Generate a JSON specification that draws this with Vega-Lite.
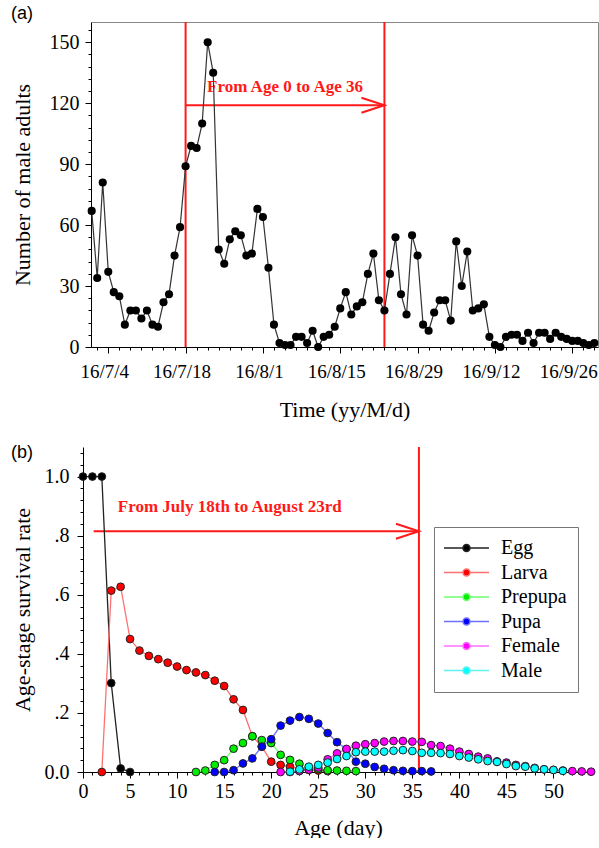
{
  "$schema": "https://vega.github.io/schema/vega-lite/v6.json",
  "padding": {"left": 10, "top": 4, "right": 0, "bottom": 0},
  "background": "#ffffff",
  "config": {
    "view": {"stroke": "#888888", "strokeWidth": 1},
    "font": "Liberation Serif",
    "axis": {
      "grid": false,
      "labelFont": "Liberation Serif",
      "labelFontSize": 20,
      "labelColor": "#000000",
      "titleFont": "Liberation Serif",
      "titleFontSize": 22,
      "titleFontWeight": "normal",
      "titleColor": "#000000",
      "domainColor": "#000000",
      "tickColor": "#000000",
      "labelOverlap": false,
      "labelFlush": false
    },
    "title": {"font": "Liberation Sans", "fontSize": 18, "fontWeight": "normal", "anchor": "start", "frame": "bounds", "color": "#000000"}
  },
  "spacing": 21,
  "resolve": {"legend": {"color": "independent", "fill": "independent"}},
  "vconcat": [
    {
      "width": 507,
      "height": 325,
      "title": {"text": "(a)", "offset": -17, "baseline": "alphabetic"},
      "data": {"values": [
        {"date": "2016-07-01", "count": 67}, {"date": "2016-07-02", "count": 34}, {"date": "2016-07-03", "count": 81}, {"date": "2016-07-04", "count": 37},
        {"date": "2016-07-05", "count": 27}, {"date": "2016-07-06", "count": 25}, {"date": "2016-07-07", "count": 11}, {"date": "2016-07-08", "count": 18},
        {"date": "2016-07-09", "count": 18}, {"date": "2016-07-10", "count": 14}, {"date": "2016-07-11", "count": 18}, {"date": "2016-07-12", "count": 11},
        {"date": "2016-07-13", "count": 10}, {"date": "2016-07-14", "count": 22}, {"date": "2016-07-15", "count": 26}, {"date": "2016-07-16", "count": 45},
        {"date": "2016-07-17", "count": 59}, {"date": "2016-07-18", "count": 89}, {"date": "2016-07-19", "count": 99}, {"date": "2016-07-20", "count": 98},
        {"date": "2016-07-21", "count": 110}, {"date": "2016-07-22", "count": 150}, {"date": "2016-07-23", "count": 135}, {"date": "2016-07-24", "count": 48},
        {"date": "2016-07-25", "count": 41}, {"date": "2016-07-26", "count": 53}, {"date": "2016-07-27", "count": 57}, {"date": "2016-07-28", "count": 55},
        {"date": "2016-07-29", "count": 45}, {"date": "2016-07-30", "count": 46}, {"date": "2016-07-31", "count": 68},
        {"date": "2016-08-01", "count": 64}, {"date": "2016-08-02", "count": 39}, {"date": "2016-08-03", "count": 11}, {"date": "2016-08-04", "count": 2},
        {"date": "2016-08-05", "count": 1}, {"date": "2016-08-06", "count": 1}, {"date": "2016-08-07", "count": 5}, {"date": "2016-08-08", "count": 5},
        {"date": "2016-08-09", "count": 2}, {"date": "2016-08-10", "count": 8}, {"date": "2016-08-11", "count": 0}, {"date": "2016-08-12", "count": 5},
        {"date": "2016-08-13", "count": 6}, {"date": "2016-08-14", "count": 10}, {"date": "2016-08-15", "count": 19}, {"date": "2016-08-16", "count": 27},
        {"date": "2016-08-17", "count": 16}, {"date": "2016-08-18", "count": 20}, {"date": "2016-08-19", "count": 22}, {"date": "2016-08-20", "count": 36},
        {"date": "2016-08-21", "count": 46}, {"date": "2016-08-22", "count": 23}, {"date": "2016-08-23", "count": 18}, {"date": "2016-08-24", "count": 36},
        {"date": "2016-08-25", "count": 54}, {"date": "2016-08-26", "count": 26}, {"date": "2016-08-27", "count": 16}, {"date": "2016-08-28", "count": 55},
        {"date": "2016-08-29", "count": 45}, {"date": "2016-08-30", "count": 11}, {"date": "2016-08-31", "count": 8},
        {"date": "2016-09-01", "count": 17}, {"date": "2016-09-02", "count": 23}, {"date": "2016-09-03", "count": 23}, {"date": "2016-09-04", "count": 13},
        {"date": "2016-09-05", "count": 52}, {"date": "2016-09-06", "count": 30}, {"date": "2016-09-07", "count": 47}, {"date": "2016-09-08", "count": 18},
        {"date": "2016-09-09", "count": 19}, {"date": "2016-09-10", "count": 21}, {"date": "2016-09-11", "count": 5}, {"date": "2016-09-12", "count": 1},
        {"date": "2016-09-13", "count": 0}, {"date": "2016-09-14", "count": 5}, {"date": "2016-09-15", "count": 6}, {"date": "2016-09-16", "count": 6},
        {"date": "2016-09-17", "count": 3}, {"date": "2016-09-18", "count": 7}, {"date": "2016-09-19", "count": 2}, {"date": "2016-09-20", "count": 7},
        {"date": "2016-09-21", "count": 7}, {"date": "2016-09-22", "count": 4}, {"date": "2016-09-23", "count": 7}, {"date": "2016-09-24", "count": 5},
        {"date": "2016-09-25", "count": 4}, {"date": "2016-09-26", "count": 3}, {"date": "2016-09-27", "count": 3}, {"date": "2016-09-28", "count": 2},
        {"date": "2016-09-29", "count": 1}, {"date": "2016-09-30", "count": 2}
      ]},
      "encoding": {
        "x": {
          "field": "date", "type": "temporal",
          "scale": {"type": "utc", "domain": [{"year": 2016, "month": 6, "date": 30, "hours": 21, "utc": true}, {"year": 2016, "month": 9, "date": 30, "hours": 16, "utc": true}]},
          "axis": {
            "title": "Time (yy/M/d)",
            "titlePadding": 18,
            "labelPadding": 9,
            "labelFontSize": 19,
            "labelOffset": -4,
            "values": [
              {"year": 2016, "month": 7, "date": 2, "utc": true}, {"year": 2016, "month": 7, "date": 4, "utc": true}, {"year": 2016, "month": 7, "date": 6, "utc": true},
              {"year": 2016, "month": 7, "date": 8, "utc": true}, {"year": 2016, "month": 7, "date": 10, "utc": true}, {"year": 2016, "month": 7, "date": 12, "utc": true},
              {"year": 2016, "month": 7, "date": 14, "utc": true}, {"year": 2016, "month": 7, "date": 16, "utc": true}, {"year": 2016, "month": 7, "date": 18, "utc": true},
              {"year": 2016, "month": 7, "date": 20, "utc": true}, {"year": 2016, "month": 7, "date": 22, "utc": true}, {"year": 2016, "month": 7, "date": 24, "utc": true},
              {"year": 2016, "month": 7, "date": 26, "utc": true}, {"year": 2016, "month": 7, "date": 28, "utc": true}, {"year": 2016, "month": 7, "date": 30, "utc": true},
              {"year": 2016, "month": 8, "date": 1, "utc": true}, {"year": 2016, "month": 8, "date": 3, "utc": true}, {"year": 2016, "month": 8, "date": 5, "utc": true},
              {"year": 2016, "month": 8, "date": 7, "utc": true}, {"year": 2016, "month": 8, "date": 9, "utc": true}, {"year": 2016, "month": 8, "date": 11, "utc": true},
              {"year": 2016, "month": 8, "date": 13, "utc": true}, {"year": 2016, "month": 8, "date": 15, "utc": true}, {"year": 2016, "month": 8, "date": 17, "utc": true},
              {"year": 2016, "month": 8, "date": 19, "utc": true}, {"year": 2016, "month": 8, "date": 21, "utc": true}, {"year": 2016, "month": 8, "date": 23, "utc": true},
              {"year": 2016, "month": 8, "date": 25, "utc": true}, {"year": 2016, "month": 8, "date": 27, "utc": true}, {"year": 2016, "month": 8, "date": 29, "utc": true},
              {"year": 2016, "month": 8, "date": 31, "utc": true}, {"year": 2016, "month": 9, "date": 2, "utc": true}, {"year": 2016, "month": 9, "date": 4, "utc": true},
              {"year": 2016, "month": 9, "date": 6, "utc": true}, {"year": 2016, "month": 9, "date": 8, "utc": true}, {"year": 2016, "month": 9, "date": 10, "utc": true},
              {"year": 2016, "month": 9, "date": 12, "utc": true}, {"year": 2016, "month": 9, "date": 14, "utc": true}, {"year": 2016, "month": 9, "date": 16, "utc": true},
              {"year": 2016, "month": 9, "date": 18, "utc": true}, {"year": 2016, "month": 9, "date": 20, "utc": true}, {"year": 2016, "month": 9, "date": 22, "utc": true},
              {"year": 2016, "month": 9, "date": 24, "utc": true}, {"year": 2016, "month": 9, "date": 26, "utc": true}, {"year": 2016, "month": 9, "date": 28, "utc": true},
              {"year": 2016, "month": 9, "date": 30, "utc": true}
            ],
            "labelExpr": "((+datum.value) - 1467590400000) % 1209600000 === 0 ? utcFormat(datum.value, '%y/%-m/%-d') : ''",
            "tickSize": {"condition": {"test": "((+datum.value) - 1467590400000) % 1209600000 === 0", "value": 6}, "value": 3}
          }
        },
        "y": {
          "field": "count", "type": "quantitative",
          "scale": {"domain": [0, 160], "nice": false},
          "axis": {
            "title": "Number of male adults",
            "titlePadding": 15,
            "labelPadding": 6,
            "values": [0, 6, 12, 18, 24, 30, 36, 42, 48, 54, 60, 66, 72, 78, 84, 90, 96, 102, 108, 114, 120, 126, 132, 138, 144, 150, 156],
            "labelExpr": "datum.value % 30 === 0 ? datum.label : ''",
            "tickSize": {"condition": {"test": "datum.value % 30 === 0", "value": 6}, "value": 3}
          }
        }
      },
      "layer": [
        {
          "data": {"values": [{"date": "2016-07-18"}, {"date": "2016-08-23"}]},
          "mark": {"type": "rule", "color": "#ff1a1a", "strokeWidth": 2},
          "encoding": {"y": null}
        },
        {
          "data": {"values": [{"date": "2016-07-18", "date2": "2016-08-23", "count": 119}]},
          "mark": {"type": "rule", "color": "#ff1a1a", "strokeWidth": 2},
          "encoding": {"x2": {"field": "date2"}}
        },
        {
          "data": {"values": [{"date": "2016-08-23", "count": 119}]},
          "mark": {"type": "point", "shape": "M-1,-0.326L0,0L-1,0.326", "size": 2116, "filled": false, "color": "#ff1a1a", "strokeWidth": 2, "opacity": 1}
        },
        {
          "data": {"values": [{"date": "2016-08-05", "count": 128, "label": "From Age 0 to Age 36"}]},
          "mark": {"type": "text", "font": "Liberation Serif", "fontSize": 17, "fontWeight": "bold", "color": "#ff1a1a", "baseline": "middle", "align": "center"},
          "encoding": {"text": {"field": "label"}}
        },
        {"mark": {"type": "line", "color": "#333333", "strokeWidth": 1.2}},
        {"mark": {"type": "point", "filled": true, "color": "#000000", "size": 66, "opacity": 1}}
      ]
    },
    {
      "width": 502,
      "height": 325,
      "view": {"stroke": null},
      "title": {"text": "(b)", "offset": -33, "baseline": "alphabetic"},
      "data": {"values": [
        {"stage": "Egg", "age": 0, "rate": 1}, {"stage": "Egg", "age": 1, "rate": 1}, {"stage": "Egg", "age": 2, "rate": 1},
        {"stage": "Egg", "age": 3, "rate": 0.301}, {"stage": "Egg", "age": 4, "rate": 0.012}, {"stage": "Egg", "age": 5, "rate": 0},
        {"stage": "Larva", "age": 2, "rate": 0}, {"stage": "Larva", "age": 3, "rate": 0.614}, {"stage": "Larva", "age": 4, "rate": 0.627},
        {"stage": "Larva", "age": 5, "rate": 0.45}, {"stage": "Larva", "age": 6, "rate": 0.411}, {"stage": "Larva", "age": 7, "rate": 0.393},
        {"stage": "Larva", "age": 8, "rate": 0.382}, {"stage": "Larva", "age": 9, "rate": 0.37}, {"stage": "Larva", "age": 10, "rate": 0.357},
        {"stage": "Larva", "age": 11, "rate": 0.345}, {"stage": "Larva", "age": 12, "rate": 0.337}, {"stage": "Larva", "age": 13, "rate": 0.328},
        {"stage": "Larva", "age": 14, "rate": 0.309}, {"stage": "Larva", "age": 15, "rate": 0.291}, {"stage": "Larva", "age": 16, "rate": 0.246},
        {"stage": "Larva", "age": 17, "rate": 0.21}, {"stage": "Larva", "age": 18, "rate": 0.121}, {"stage": "Larva", "age": 19, "rate": 0.086},
        {"stage": "Larva", "age": 20, "rate": 0.035}, {"stage": "Larva", "age": 21, "rate": 0.024}, {"stage": "Larva", "age": 22, "rate": 0.018},
        {"stage": "Larva", "age": 23, "rate": 0.01}, {"stage": "Larva", "age": 24, "rate": 0.007}, {"stage": "Larva", "age": 25, "rate": 0.005},
        {"stage": "Larva", "age": 26, "rate": 0.003},
        {"stage": "Prepupa", "age": 12, "rate": 0}, {"stage": "Prepupa", "age": 13, "rate": 0.005}, {"stage": "Prepupa", "age": 14, "rate": 0.024},
        {"stage": "Prepupa", "age": 15, "rate": 0.04}, {"stage": "Prepupa", "age": 16, "rate": 0.079}, {"stage": "Prepupa", "age": 17, "rate": 0.098},
        {"stage": "Prepupa", "age": 18, "rate": 0.121}, {"stage": "Prepupa", "age": 19, "rate": 0.108}, {"stage": "Prepupa", "age": 20, "rate": 0.098},
        {"stage": "Prepupa", "age": 21, "rate": 0.058}, {"stage": "Prepupa", "age": 22, "rate": 0.041}, {"stage": "Prepupa", "age": 23, "rate": 0.028},
        {"stage": "Prepupa", "age": 24, "rate": 0.015}, {"stage": "Prepupa", "age": 25, "rate": 0.01}, {"stage": "Prepupa", "age": 26, "rate": 0.006},
        {"stage": "Prepupa", "age": 27, "rate": 0.005}, {"stage": "Prepupa", "age": 28, "rate": 0.004}, {"stage": "Prepupa", "age": 29, "rate": 0.003},
        {"stage": "Pupa", "age": 14, "rate": 0}, {"stage": "Pupa", "age": 15, "rate": 0}, {"stage": "Pupa", "age": 16, "rate": 0.006},
        {"stage": "Pupa", "age": 17, "rate": 0.029}, {"stage": "Pupa", "age": 18, "rate": 0.046}, {"stage": "Pupa", "age": 19, "rate": 0.086},
        {"stage": "Pupa", "age": 20, "rate": 0.111}, {"stage": "Pupa", "age": 21, "rate": 0.157}, {"stage": "Pupa", "age": 22, "rate": 0.174},
        {"stage": "Pupa", "age": 23, "rate": 0.186}, {"stage": "Pupa", "age": 24, "rate": 0.18}, {"stage": "Pupa", "age": 25, "rate": 0.164},
        {"stage": "Pupa", "age": 26, "rate": 0.132}, {"stage": "Pupa", "age": 27, "rate": 0.101}, {"stage": "Pupa", "age": 28, "rate": 0.077},
        {"stage": "Pupa", "age": 29, "rate": 0.035}, {"stage": "Pupa", "age": 30, "rate": 0.028}, {"stage": "Pupa", "age": 31, "rate": 0.017},
        {"stage": "Pupa", "age": 32, "rate": 0.011}, {"stage": "Pupa", "age": 33, "rate": 0.006}, {"stage": "Pupa", "age": 34, "rate": 0.004},
        {"stage": "Pupa", "age": 35, "rate": 0.003}, {"stage": "Pupa", "age": 36, "rate": 0.003}, {"stage": "Pupa", "age": 37, "rate": 0.002},
        {"stage": "Female", "age": 21, "rate": 0}, {"stage": "Female", "age": 22, "rate": 0}, {"stage": "Female", "age": 23, "rate": 0.003},
        {"stage": "Female", "age": 24, "rate": 0.008}, {"stage": "Female", "age": 25, "rate": 0.015}, {"stage": "Female", "age": 26, "rate": 0.043},
        {"stage": "Female", "age": 27, "rate": 0.063}, {"stage": "Female", "age": 28, "rate": 0.078}, {"stage": "Female", "age": 29, "rate": 0.089},
        {"stage": "Female", "age": 30, "rate": 0.094}, {"stage": "Female", "age": 31, "rate": 0.098}, {"stage": "Female", "age": 32, "rate": 0.103},
        {"stage": "Female", "age": 33, "rate": 0.105}, {"stage": "Female", "age": 34, "rate": 0.105}, {"stage": "Female", "age": 35, "rate": 0.103},
        {"stage": "Female", "age": 36, "rate": 0.102}, {"stage": "Female", "age": 37, "rate": 0.091}, {"stage": "Female", "age": 38, "rate": 0.088},
        {"stage": "Female", "age": 39, "rate": 0.079}, {"stage": "Female", "age": 40, "rate": 0.069}, {"stage": "Female", "age": 41, "rate": 0.061},
        {"stage": "Female", "age": 42, "rate": 0.052}, {"stage": "Female", "age": 43, "rate": 0.046}, {"stage": "Female", "age": 44, "rate": 0.036},
        {"stage": "Female", "age": 45, "rate": 0.032}, {"stage": "Female", "age": 46, "rate": 0.024}, {"stage": "Female", "age": 47, "rate": 0.02},
        {"stage": "Female", "age": 48, "rate": 0.014}, {"stage": "Female", "age": 49, "rate": 0.009}, {"stage": "Female", "age": 50, "rate": 0.007},
        {"stage": "Female", "age": 51, "rate": 0.005}, {"stage": "Female", "age": 52, "rate": 0.003}, {"stage": "Female", "age": 53, "rate": 0.002},
        {"stage": "Female", "age": 54, "rate": 0.001},
        {"stage": "Male", "age": 22, "rate": 0.001}, {"stage": "Male", "age": 23, "rate": 0.009}, {"stage": "Male", "age": 24, "rate": 0.018},
        {"stage": "Male", "age": 25, "rate": 0.024}, {"stage": "Male", "age": 26, "rate": 0.032}, {"stage": "Male", "age": 27, "rate": 0.044},
        {"stage": "Male", "age": 28, "rate": 0.054}, {"stage": "Male", "age": 29, "rate": 0.067}, {"stage": "Male", "age": 30, "rate": 0.069},
        {"stage": "Male", "age": 31, "rate": 0.069}, {"stage": "Male", "age": 32, "rate": 0.069}, {"stage": "Male", "age": 33, "rate": 0.072},
        {"stage": "Male", "age": 34, "rate": 0.074}, {"stage": "Male", "age": 35, "rate": 0.071}, {"stage": "Male", "age": 36, "rate": 0.065},
        {"stage": "Male", "age": 37, "rate": 0.065}, {"stage": "Male", "age": 38, "rate": 0.064}, {"stage": "Male", "age": 39, "rate": 0.061},
        {"stage": "Male", "age": 40, "rate": 0.054}, {"stage": "Male", "age": 41, "rate": 0.049}, {"stage": "Male", "age": 42, "rate": 0.043},
        {"stage": "Male", "age": 43, "rate": 0.037}, {"stage": "Male", "age": 44, "rate": 0.034}, {"stage": "Male", "age": 45, "rate": 0.027},
        {"stage": "Male", "age": 46, "rate": 0.02}, {"stage": "Male", "age": 47, "rate": 0.018}, {"stage": "Male", "age": 48, "rate": 0.012},
        {"stage": "Male", "age": 49, "rate": 0.009}, {"stage": "Male", "age": 50, "rate": 0.007}, {"stage": "Male", "age": 51, "rate": 0.004}
      ]},
      "encoding": {
        "x": {
          "field": "age", "type": "quantitative",
          "scale": {"domain": [0, 54.2], "range": [-8, 502], "nice": false, "zero": false},
          "axis": {
            "title": "Age (day)",
            "titlePadding": 16,
            "labelPadding": 3,
            "values": [0,1,2,3,4,5,6,7,8,9,10,11,12,13,14,15,16,17,18,19,20,21,22,23,24,25,26,27,28,29,30,31,32,33,34,35,36,37,38,39,40,41,42,43,44,45,46,47,48,49,50,51,52,53,54],
            "labelExpr": "datum.value % 5 === 0 ? datum.label : ''",
            "tickSize": {"condition": {"test": "datum.value % 5 === 0", "value": 6}, "value": 3}
          }
        },
        "y": {
          "field": "rate", "type": "quantitative",
          "scale": {"domain": [0, 1.1], "nice": false},
          "axis": {
            "title": "Age-stage survival rate",
            "offset": 8,
            "titlePadding": 10,
            "labelPadding": 8,
            "format": ".1f",
            "values": [0, 0.04, 0.08, 0.12, 0.16, 0.2, 0.24, 0.28, 0.32, 0.36, 0.4, 0.44, 0.48, 0.52, 0.56, 0.6, 0.64, 0.68, 0.72, 0.76, 0.8, 0.84, 0.88, 0.92, 0.96, 1.0, 1.04, 1.08],
            "labelExpr": "round(datum.value * 100) % 20 === 0 ? ((datum.value < 0.01 || datum.value > 0.99) ? datum.label : replace(datum.label, '0.', '.')) : ''",
            "tickSize": {"condition": {"test": "round(datum.value * 100) % 20 === 0", "value": 6}, "value": 3}
          }
        }
      },
      "layer": [
        {
          "data": {"values": [{"edge": "top"}]},
          "mark": {"type": "rule", "color": "#888888", "strokeWidth": 1},
          "encoding": {"x": {"datum": 0}, "x2": {"datum": 54.2}, "y": {"datum": 1.1}}
        },
        {
          "data": {"values": [{"edge": "right"}]},
          "mark": {"type": "rule", "color": "#888888", "strokeWidth": 1},
          "encoding": {"x": {"datum": 54.2}, "y": {"datum": 0}, "y2": {"datum": 1.1}}
        },
        {
          "data": {"values": [{"age": 35.7}]},
          "mark": {"type": "rule", "color": "#ff1a1a", "strokeWidth": 2},
          "encoding": {"y": null}
        },
        {
          "data": {"values": [{"age": 1.13, "age2": 35.7, "rate": 0.815}]},
          "mark": {"type": "rule", "color": "#ff1a1a", "strokeWidth": 2},
          "encoding": {"x2": {"field": "age2"}}
        },
        {
          "data": {"values": [{"age": 35.7, "rate": 0.815}]},
          "mark": {"type": "point", "shape": "M-1,-0.326L0,0L-1,0.326", "size": 2116, "filled": false, "color": "#ff1a1a", "strokeWidth": 2, "opacity": 1}
        },
        {
          "data": {"values": [{"age": 15.6, "rate": 0.898, "label": "From July 18th to August 23rd"}]},
          "mark": {"type": "text", "font": "Liberation Serif", "fontSize": 17, "fontWeight": "bold", "color": "#ff1a1a", "baseline": "middle", "align": "center"},
          "encoding": {"text": {"field": "label"}}
        },
        {
          "mark": {"type": "line", "strokeWidth": 1.3},
          "encoding": {
            "color": {
              "field": "stage", "type": "nominal",
              "scale": {"domain": ["Egg", "Larva", "Prepupa", "Pupa", "Female", "Male"], "range": ["#222222", "#ff7070", "#70ff70", "#7070ff", "#ff70ff", "#60f0f0"]},
              "legend": {"orient": "none", "legendX": 343, "legendY": 80, "title": null, "symbolType": "M-2.75,0L2,0M3.75,0L8.5,0M2,0A0.875,0.875 0 1 0 3.75,0A0.875,0.875 0 1 0 2,0Z", "symbolSize": 64, "symbolStrokeWidth": 1.5, "symbolOpacity": 1, "labelFont": "Liberation Serif", "labelFontSize": 20, "labelColor": "#000000", "labelOffset": 36, "padding": 11, "rowPadding": 4.5, "strokeColor": "#777777", "fillColor": "#ffffff", "labelLimit": 300}
            }
          }
        },
        {
          "mark": {"type": "point", "filled": true, "size": 60, "opacity": 1, "stroke": "#222222", "strokeWidth": 1},
          "encoding": {
            "fill": {
              "field": "stage", "type": "nominal",
              "scale": {"domain": ["Egg", "Larva", "Prepupa", "Pupa", "Female", "Male"], "range": ["#000000", "#ff0000", "#00ee00", "#0000ff", "#ff00ff", "#00ffff"]},
              "legend": {"orient": "none", "legendX": 343, "legendY": 80, "title": null, "symbolType": "M-2.75,0L2,0M3.75,0L8.5,0M2,0A0.875,0.875 0 1 0 3.75,0A0.875,0.875 0 1 0 2,0Z", "symbolSize": 64, "symbolStrokeWidth": 1.5, "symbolOpacity": 1, "labelFont": "Liberation Serif", "labelFontSize": 20, "labelColor": "#000000", "labelOffset": 36, "padding": 11, "rowPadding": 4.5, "strokeColor": "#777777", "fillColor": "#ffffff", "labelLimit": 300}
            }
          }
        }
      ]
    }
  ]
}
